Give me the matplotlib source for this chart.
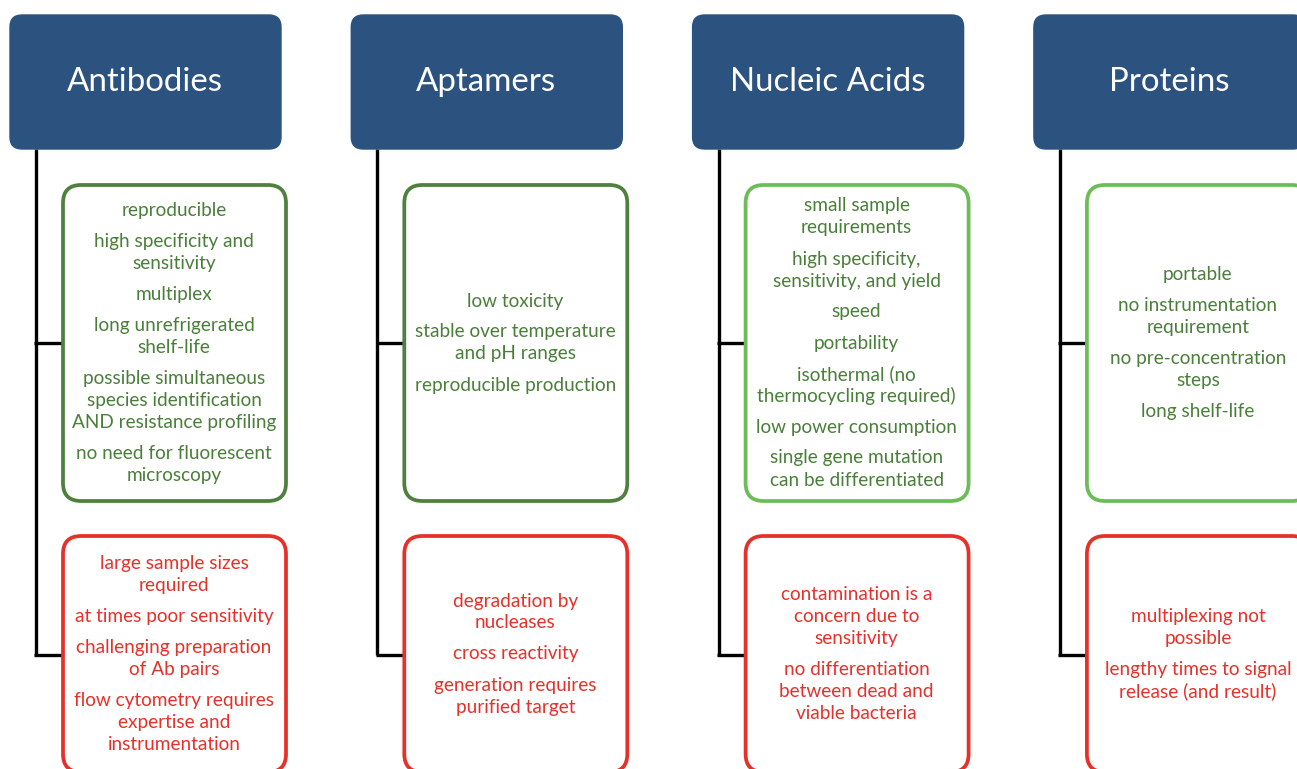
import matplotlib
matplotlib.use("Agg")
import matplotlib.pyplot as plt
from matplotlib.patches import FancyBboxPatch

plt.rcParams["font.family"] = ["Lato", "DejaVu Sans"]

AZUL = "#2c5280"
VERDE_TXT = "#4a7f3a"
VERDE_ESCURO = "#50803e"
VERDE_CLARO = "#6cbd58"
VERMELHO = "#e6312a"

categorias = ["Antibodies", "Aptamers", "Nucleic Acids", "Proteins"]

vantagens = [
    ["reproducible", "high specificity and\nsensitivity", "multiplex",
     "long unrefrigerated\nshelf-life",
     "possible simultaneous\nspecies identification\nAND resistance profiling",
     "no need for fluorescent\nmicroscopy"],
    ["low toxicity", "stable over temperature\nand pH ranges",
     "reproducible production"],
    ["small sample\nrequirements", "high specificity,\nsensitivity, and yield",
     "speed", "portability", "isothermal (no\nthermocycling required)",
     "low power consumption", "single gene mutation\ncan be differentiated"],
    ["portable", "no instrumentation\nrequirement",
     "no pre-concentration\nsteps", "long shelf-life"],
]

desvantagens = [
    ["large sample sizes\nrequired", "at times poor sensitivity",
     "challenging preparation\nof Ab pairs",
     "flow cytometry requires\nexpertise and\ninstrumentation"],
    ["degradation by\nnucleases", "cross reactivity",
     "generation requires\npurified target"],
    ["contamination is a\nconcern due to\nsensitivity",
     "no differentiation\nbetween dead and\nviable bacteria"],
    ["multiplexing not\npossible", "lengthy times to signal\nrelease (and result)"],
]

bordas_verdes = [VERDE_ESCURO, VERDE_ESCURO, VERDE_CLARO, VERDE_CLARO]

W, H = 1297, 769
fig = plt.figure(figsize=(W / 100, H / 100), dpi=100)
ax = fig.add_axes([0, 0, 1, 1])
ax.set_xlim(0, W)
ax.set_ylim(H, 0)
ax.axis("off")

PASSO = 341.3
LINHA = 22
ESPACO = 9


def caixa(x0, y0, w, h, cor_borda, cor_fundo="white", lw=2.7, r=18):
    p = FancyBboxPatch((x0 + r, y0 + r), w - 2 * r, h - 2 * r,
                       boxstyle=f"round,pad={r}", linewidth=lw,
                       edgecolor=cor_borda, facecolor=cor_fundo, zorder=3)
    ax.add_patch(p)


def textos(itens, xc, yc, cor):
    linhas = [it.split("\n") for it in itens]
    n = sum(len(l) for l in linhas)
    altura = (n - 1) * LINHA + (len(itens) - 1) * ESPACO
    y = yc - altura / 2
    for bloco in linhas:
        for ln in bloco:
            ax.text(xc, y, ln, ha="center", va="center", fontsize=13.7,
                    color=cor, zorder=4)
            y += LINHA
        y += ESPACO


for i, cat in enumerate(categorias):
    x0 = 10 + i * PASSO
    # cabeçalho
    caixa(x0, 15, 271, 134, AZUL, AZUL, lw=1, r=12)
    ax.text(x0 + 135, 82, cat, ha="center", va="center", fontsize=23.8,
            color="white", zorder=4)
    # conectores
    xl = x0 + 26
    ax.plot([xl, xl], [149, 655], color="black", lw=2.4, zorder=2,
            solid_capstyle="butt")
    ax.plot([xl - 1.6, x0 + 55], [343, 343], color="black", lw=2.4,
            zorder=2, solid_capstyle="butt")
    ax.plot([xl - 1.6, x0 + 55], [655, 655], color="black", lw=2.4,
            zorder=2, solid_capstyle="butt")
    # caixas
    bx = x0 + 53
    caixa(bx, 185, 223, 316, bordas_verdes[i])
    textos(vantagens[i], bx + 111, 343, VERDE_TXT)
    caixa(bx, 536, 223, 236, VERMELHO)
    textos(desvantagens[i], bx + 111, 654, VERMELHO)

fig.savefig("out.png", dpi=100, facecolor="white")
